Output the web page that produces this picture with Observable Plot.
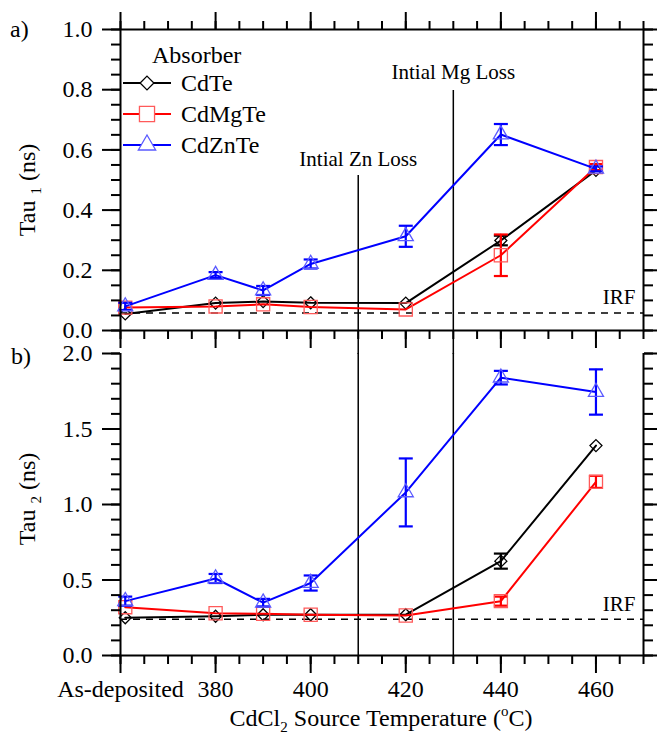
<!DOCTYPE html>
<html><head><meta charset="utf-8">
<script src="https://cdn.jsdelivr.net/npm/d3@7"></script>
<script src="https://cdn.jsdelivr.net/npm/@observablehq/plot@0.6"></script>
<style>
body{margin:0;background:#fff;}
#wrap{position:relative;width:657px;height:742px;overflow:hidden;background:#fff;font-family:"Liberation Serif",serif;}
#wrap svg{position:absolute;left:0;overflow:visible;font-family:"Liberation Serif",serif !important;}
#wrap svg text{font-family:"Liberation Serif",serif !important;}
</style></head><body><div id="wrap"></div>
<script>
// ---------- data ----------
const temps = [361, 380, 390, 400, 420, 440, 460];
const xTickValues = [360, 380, 400, 420, 440, 460];
const xTickLabels = ["As-deposited", "380", "400", "420", "440", "460"];
const absorbers = ["CdTe", "CdMgTe", "CdZnTe"];
const colors = ["#000000", "#ff0000", "#0000ff"];
const markerColors = ["#000000", "#ff5a5a", "#5a5aff"];
const symbols = ["diamond2", "square", "triangle"];
const markerR = [5.4, 7.4, 5.6];

const tau1CdTe      = [0.055, 0.091, 0.096, 0.092, 0.091, 0.299, 0.532];
const tau1CdTeErr   = [0, 0, 0, 0, 0, 0.016, 0];
const tau1CdMgTe    = [0.076, 0.080, 0.087, 0.078, 0.070, 0.250, 0.543];
const tau1CdMgTeErr = [0, 0, 0, 0, 0, 0.069, 0.010];
const tau1CdZnTe    = [0.080, 0.184, 0.133, 0.221, 0.313, 0.651, 0.537];
const tau1CdZnTeErr = [0.012, 0.010, 0.015, 0.015, 0.035, 0.035, 0.008];

const tau2CdTe      = [0.25, 0.26, 0.27, 0.27, 0.27, 0.625, 1.39];
const tau2CdTeErr   = [0, 0, 0, 0, 0, 0.05, 0];
const tau2CdMgTe    = [0.32, 0.28, 0.276, 0.27, 0.265, 0.36, 1.15];
const tau2CdMgTeErr = [0, 0, 0, 0, 0, 0.03, 0.04];
const tau2CdZnTe    = [0.36, 0.51, 0.35, 0.48, 1.08, 1.84, 1.745];
const tau2CdZnTeErr = [0.03, 0.03, 0.025, 0.05, 0.225, 0.045, 0.15];

const irf1 = 0.058, irf2 = 0.24;
const lossX = [410, 430];
const lossLabels = ["Intial Zn Loss", "Intial Mg Loss"];
const lossTop1 = [0.515, 0.797];
const lossLabelY1 = [0.57, 0.858];

const yMajor1 = [0, 0.2, 0.4, 0.6, 0.8, 1.0];
const yMajor2 = [0, 0.5, 1.0, 1.5, 2.0];
const yMajor1Labels = ["0.0", "0.2", "0.4", "0.6", "0.8", "1.0"];
const yMajor2Labels = ["0.0", "0.5", "1.0", "1.5", "2.0"];

// ---------- helpers ----------
const xMinor = d3.range(0, 23).map(i => 360 + i * 5);
const yMinor1 = d3.range(0, 21).map(i => i * 0.05);
const yMinor2 = d3.range(0, 21).map(i => i * 0.1);
const cap = {draw(ctx, size) { const r = Math.sqrt(size / Math.PI); ctx.moveTo(-r, 0); ctx.lineTo(r, 0); }};

function rows(series) {
  const out = [];
  series.forEach(([vals, errs], s) => {
    vals.forEach((v, i) => out.push({s, name: absorbers[s], x: temps[i], y: v, e: errs[i]}));
  });
  return out;
}
const data1 = rows([[tau1CdTe, tau1CdTeErr], [tau1CdMgTe, tau1CdMgTeErr], [tau1CdZnTe, tau1CdZnTeErr]]);
const data2 = rows([[tau2CdTe, tau2CdTeErr], [tau2CdMgTe, tau2CdMgTeErr], [tau2CdZnTe, tau2CdZnTeErr]]);
const lossRows = lossX.map((x, i) => ({x, label: lossLabels[i], top: lossTop1[i], ly: lossLabelY1[i]}));

function seriesMarks(data) {
  const m = [];
  [0, 1, 2].forEach(s => {
    const d = data.filter(r => r.s === s);
    const de = d.filter(r => r.e > 0);
    m.push(Plot.line(d, {x: "x", y: "y", stroke: colors[s], strokeWidth: 2}));
    m.push(Plot.ruleX(de, {x: "x", y1: r => r.y - r.e, y2: r => r.y + r.e, stroke: colors[s], strokeWidth: 2.2}));
    m.push(Plot.dot(de, {x: "x", y: r => r.y - r.e, symbol: cap, r: 7, stroke: colors[s], strokeWidth: 2.2, fill: "none"}));
    m.push(Plot.dot(de, {x: "x", y: r => r.y + r.e, symbol: cap, r: 7, stroke: colors[s], strokeWidth: 2.2, fill: "none"}));
    m.push(Plot.dot(d, {x: "x", y: "y", symbol: symbols[s], r: markerR[s], stroke: markerColors[s], strokeWidth: 1.3, fill: "none"}));
  });
  return m;
}

const common = {
  width: 657, marginLeft: 120, marginRight: 14,
  x: {domain: [360, 470]},
  style: {fontFamily: "'Liberation Serif', serif", fontSize: "24px", color: "black", background: "transparent", overflow: "visible"}
};
const tickOpts = {strokeWidth: 2, label: null, fontSize: 24};

// ---------- panel a ----------
const plotTop = Plot.plot({
  ...common, height: 353, marginTop: 29, marginBottom: 23,
  y: {domain: [0, 1]},
  marks: [
    Plot.ruleY([irf1], {stroke: "black", strokeWidth: 1.5, strokeDasharray: "7,6"}),
    Plot.ruleX(lossRows, {x: "x", y1: -0.08, y2: "top", stroke: "black", strokeWidth: 1.5}),
    Plot.text(lossRows, {x: "x", y: "ly", text: "label", fontSize: 21}),
    Plot.text([irf1], {x: 470, y: d => d, text: () => "IRF", textAnchor: "end", dx: -8, dy: -16, fontSize: 21}),
    ...seriesMarks(data1),
    Plot.frame({stroke: "black", strokeWidth: 2}),
    Plot.axisY({...tickOpts, anchor: "left", ticks: yMajor1, tickSize: 18, tickPadding: 10, tickFormat: (d, i) => yMajor1Labels[i]}),
    Plot.axisY({...tickOpts, anchor: "left", ticks: yMinor1, tickSize: 9, tickFormat: () => ""}),
    Plot.axisY({...tickOpts, anchor: "right", ticks: yMajor1, tickSize: 18, tickFormat: () => ""}),
    Plot.axisY({...tickOpts, anchor: "right", ticks: yMinor1, tickSize: 9, tickFormat: () => ""}),
    Plot.axisX({...tickOpts, anchor: "bottom", ticks: xTickValues, tickSize: 18, tickFormat: () => ""}),
    Plot.axisX({...tickOpts, anchor: "bottom", ticks: xMinor, tickSize: 9, tickFormat: () => ""}),
    Plot.axisX({...tickOpts, anchor: "top", ticks: xTickValues, tickSize: 18, tickFormat: () => ""}),
    Plot.axisX({...tickOpts, anchor: "top", ticks: xMinor, tickSize: 9, tickFormat: () => ""})
  ]
});
plotTop.style.top = "0px";

// ---------- panel b ----------
const plotBottom = Plot.plot({
  ...common, height: 389, marginTop: 0, marginBottom: 87,
  y: {domain: [0, 2]},
  marks: [
    Plot.ruleY([irf2], {stroke: "black", strokeWidth: 1.5, strokeDasharray: "7,6"}),
    Plot.ruleX(lossRows, {x: "x", stroke: "black", strokeWidth: 1.5}),
    Plot.text([irf2], {x: 470, y: d => d, text: () => "IRF", textAnchor: "end", dx: -8, dy: -15, fontSize: 21}),
    ...seriesMarks(data2),
    Plot.ruleX([360, 470], {stroke: "black", strokeWidth: 2}),
    Plot.ruleY([0], {stroke: "black", strokeWidth: 2}),
    Plot.axisY({...tickOpts, anchor: "left", ticks: yMajor2, tickSize: 18, tickPadding: 10, tickFormat: (d, i) => yMajor2Labels[i]}),
    Plot.axisY({...tickOpts, anchor: "left", ticks: yMinor2, tickSize: 9, tickFormat: () => ""}),
    Plot.axisY({...tickOpts, anchor: "right", ticks: yMajor2, tickSize: 18, tickFormat: () => ""}),
    Plot.axisY({...tickOpts, anchor: "right", ticks: yMinor2, tickSize: 9, tickFormat: () => ""}),
    Plot.axisX({...tickOpts, anchor: "bottom", ticks: xTickValues, tickSize: 18, tickPadding: 6, tickFormat: (d, i) => xTickLabels[i]}),
    Plot.axisX({...tickOpts, anchor: "bottom", ticks: xMinor, tickSize: 9, tickFormat: () => ""})
  ]
});
plotBottom.style.top = "353px";

const wrap = document.getElementById("wrap");
wrap.appendChild(plotTop);
wrap.appendChild(plotBottom);

// ---------- titles / labels ----------
const sTop = d3.select(plotTop), sBot = d3.select(plotBottom);
function yTitle(sel, cy, sub) {
  const t = sel.append("text").attr("transform", `translate(35,${cy}) rotate(-90)`)
    .attr("text-anchor", "middle").attr("font-size", 24).attr("fill", "black");
  t.append("tspan").text("Tau ");
  t.append("tspan").attr("font-size", 15).attr("dy", 6).text(sub);
  t.append("tspan").attr("dy", -6).text(" (ns)");
}
yTitle(sTop, 190, "1");
yTitle(sBot, 146, "2");
sTop.append("text").attr("x", 10).attr("y", 37).attr("text-anchor", "start").attr("font-size", 24).text("a)");
sBot.append("text").attr("x", 11).attr("y", 11).attr("text-anchor", "start").attr("font-size", 24).text("b)");

const xt = sBot.append("text").attr("x", 381).attr("y", 373).attr("text-anchor", "middle").attr("font-size", 24).attr("fill", "black");
xt.append("tspan").text("CdCl");
xt.append("tspan").attr("font-size", 15).attr("dy", 6).text("2");
xt.append("tspan").attr("dy", -6).text(" Source Temperature (");
xt.append("tspan").attr("font-size", 15).attr("dy", -10).text("o");
xt.append("tspan").attr("dy", 10).text("C)");

// ---------- legend ----------
const lg = sTop.append("g").attr("text-anchor", "start");
lg.append("text").attr("x", 152).attr("y", 63).attr("font-size", 24).text("Absorber");
const rowY = [83, 114, 145];
absorbers.forEach((name, i) => {
  const y = rowY[i];
  const rr = markerR[i] * 1.15;
  lg.append("line").attr("x1", 123).attr("x2", 171).attr("y1", y).attr("y2", y).attr("stroke", colors[i]).attr("stroke-width", 2);
  const sym = [d3.symbolDiamond2, d3.symbolSquare, d3.symbolTriangle][i];
  lg.append("path").attr("d", d3.symbol(sym, Math.PI * rr * rr)())
    .attr("transform", `translate(147,${y})`).attr("fill", "white").attr("stroke", markerColors[i]).attr("stroke-width", 1.3);
  lg.append("text").attr("x", 181).attr("y", y + 8).attr("font-size", 24).text(name);
});

d3.selectAll("#wrap svg text").style("font-family", "'Liberation Serif', serif");
</script></body></html>
